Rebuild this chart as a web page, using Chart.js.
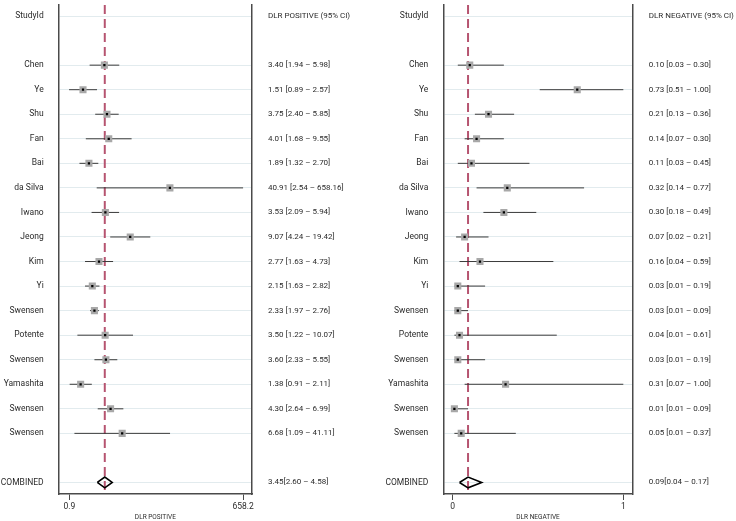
<!DOCTYPE html>
<html>
<head>
<meta charset="utf-8">
<script src="https://cdn.jsdelivr.net/npm/chart.js@4.4.1/dist/chart.umd.min.js"></script>
<style>
    html, body { margin: 0; padding: 0; background: #fff; }
    #wrap { position: relative; width: 736px; height: 521px; }
    #posBox { position: absolute; left: 0; top: 0; width: 375px; height: 521px; }
    #negBox { position: absolute; left: 375px; top: 0; width: 361px; height: 521px; }
</style>
</head>
<body>
<div id="wrap">
    <div id="posBox"><canvas id="posChart" width="375" height="521"></canvas></div>
    <div id="negBox"><canvas id="negChart" width="361" height="521"></canvas></div>
</div>
<script>
const studies = ['Chen', 'Ye', 'Shu', 'Fan', 'Bai', 'da Silva', 'Iwano', 'Jeong', 'Kim', 'Yi',
    'Swensen', 'Potente', 'Swensen', 'Yamashita', 'Swensen', 'Swensen'];

const posEst = [3.40, 1.51, 3.75, 4.01, 1.89, 40.91, 3.53, 9.07, 2.77, 2.15, 2.33, 3.50, 3.60, 1.38, 4.30, 6.68];
const posLo  = [1.94, 0.89, 2.40, 1.68, 1.32, 2.54, 2.09, 4.24, 1.63, 1.63, 1.97, 1.22, 2.33, 0.91, 2.64, 1.09];
const posHi  = [5.98, 2.57, 5.85, 9.55, 2.70, 658.16, 5.94, 19.42, 4.73, 2.82, 2.76, 10.07, 5.55, 2.11, 6.99, 41.11];
const posCombined = [3.45, 2.60, 4.58];
const posTicks = [0.9, 658.2];

const negEst = [0.10, 0.73, 0.21, 0.14, 0.11, 0.32, 0.30, 0.07, 0.16, 0.03, 0.03, 0.04, 0.03, 0.31, 0.01, 0.05];
const negLo  = [0.03, 0.51, 0.13, 0.07, 0.03, 0.14, 0.18, 0.02, 0.04, 0.01, 0.01, 0.01, 0.01, 0.07, 0.01, 0.01];
const negHi  = [0.30, 1.00, 0.36, 0.30, 0.45, 0.77, 0.49, 0.21, 0.59, 0.19, 0.09, 0.61, 0.19, 1.00, 0.09, 0.37];
const negCombined = [0.09, 0.04, 0.17];
const negTicks = [0, 1];

const FONT = "Roboto, 'Liberation Sans', sans-serif";
const TEXT = '#2b2b2b';
const FRAME = '#4a4a4a';
const combinedRow = studies.length + 3;
const rowTicks = [0, ...studies.map((s, i) => i + 2), combinedRow];
const yMin = -0.45, yMax = combinedRow + 0.47;

const rowLabel = (v) => {
    if (v === 0) return 'StudyId';
    if (v === combinedRow) return 'COMBINED';
    return studies[v - 2] || '';
};

const fmt = (n) => n.toFixed(2);

window.renderForest = (canvasId, cfg) => {
    const ctx = document.getElementById(canvasId).getContext('2d');

    const ciText = (v) => {
        if (v === 0) return cfg.header;
        if (v === combinedRow) {
            const c = cfg.combined;
            return `${fmt(c[0])}[${fmt(c[1])} – ${fmt(c[2])}]`;
        }
        const i = v - 2;
        if (i < 0 || i >= studies.length) return '';
        return `${fmt(cfg.est[i])} [${fmt(cfg.lo[i])} – ${fmt(cfg.hi[i])}]`;
    };

    const ciLines = studies.map((s, i) => ({
        showLine: true,
        data: [{ x: cfg.lo[i], y: i + 2 }, { x: cfg.hi[i], y: i + 2 }],
        borderColor: '#3a3a3a',
        borderWidth: 1,
        pointRadius: 0,
        order: 3
    }));

    const c = cfg.combined;

    new Chart(ctx, {
        type: 'scatter',
        data: {
            datasets: [
                {
                    // centre dots
                    data: cfg.est.map((v, i) => ({ x: v, y: i + 2 })),
                    pointStyle: 'rect',
                    pointRadius: 1.6,
                    backgroundColor: '#000',
                    borderWidth: 0,
                    order: 0
                },
                {
                    // grey weight boxes
                    data: cfg.est.map((v, i) => ({ x: v, y: i + 2 })),
                    pointStyle: 'rect',
                    pointRadius: 5,
                    backgroundColor: '#a8a8a8',
                    borderWidth: 0,
                    order: 1
                },
                ...ciLines,
                {
                    // pooled estimate diamond
                    showLine: true,
                    data: [
                        { x: c[1], y: combinedRow },
                        { x: c[0], y: combinedRow - 0.22 },
                        { x: c[2], y: combinedRow },
                        { x: c[0], y: combinedRow + 0.22 },
                        { x: c[1], y: combinedRow }
                    ],
                    borderColor: '#000',
                    borderWidth: 1.6,
                    pointRadius: 0,
                    fill: false,
                    order: 1
                },
                {
                    // pooled reference line
                    showLine: true,
                    data: [{ x: c[0], y: yMin }, { x: c[0], y: yMax }],
                    borderColor: 'rgb(182, 84, 112)',
                    borderWidth: 2,
                    borderDash: [9, 5],
                    pointRadius: 0,
                    order: 4
                }
            ]
        },
        options: {
            responsive: false,
            devicePixelRatio: 1,
            animation: false,
            layout: { padding: 0 },
            plugins: {
                legend: { display: false },
                tooltip: { enabled: false }
            },
            scales: {
                x: {
                    type: cfg.xType,
                    position: 'bottom',
                    min: cfg.xMin,
                    max: cfg.xMax,
                    afterBuildTicks: (s) => { s.ticks = cfg.xTicks.map(v => ({ value: v })); },
                    afterFit: (s) => { s.height = 27; s.paddingLeft = 0; s.paddingRight = 0; },
                    ticks: {
                        autoSkip: false,
                        maxRotation: 0,
                        padding: 2,
                        color: TEXT,
                        font: { family: FONT, size: 8.5 },
                        callback: (v) => String(v)
                    },
                    grid: { drawOnChartArea: false, drawTicks: true, tickLength: 6, color: FRAME },
                    border: { display: true, color: FRAME, width: 1.5 },
                    title: {
                        display: true,
                        text: cfg.axisTitle,
                        color: TEXT,
                        padding: 0,
                        font: { family: FONT, size: 6.5 }
                    }
                },
                y: {
                    type: 'linear',
                    position: 'left',
                    reverse: true,
                    min: yMin,
                    max: yMax,
                    afterBuildTicks: (s) => { s.ticks = rowTicks.map(v => ({ value: v })); },
                    afterFit: (s) => { s.width = cfg.leftW; s.paddingTop = 0; s.paddingBottom = 0; },
                    ticks: {
                        padding: 15,
                        color: TEXT,
                        font: { family: FONT, size: 8.5 },
                        callback: (v) => rowLabel(v)
                    },
                    grid: { color: '#e2ebee', lineWidth: 1, drawTicks: false },
                    border: { display: true, color: FRAME, width: 1.5 }
                },
                y2: {
                    type: 'linear',
                    position: 'right',
                    reverse: true,
                    min: yMin,
                    max: yMax,
                    afterBuildTicks: (s) => { s.ticks = rowTicks.map(v => ({ value: v })); },
                    afterFit: (s) => { s.width = cfg.rightW; s.paddingTop = 0; s.paddingBottom = 0; },
                    ticks: {
                        padding: 16,
                        color: TEXT,
                        font: { family: FONT, size: 8 },
                        callback: (v) => ciText(v)
                    },
                    grid: { drawOnChartArea: false, drawTicks: false },
                    border: { display: true, color: FRAME, width: 1.5 }
                }
            }
        }
    });
};

window.renderForest('posChart', {
    est: posEst, lo: posLo, hi: posHi, combined: posCombined,
    xType: 'logarithmic', xMin: 0.634, xMax: 923, xTicks: posTicks,
    header: 'DLR POSITIVE (95% CI)', axisTitle: 'DLR POSITIVE',
    leftW: 58.7, rightW: 375 - 252
});

window.renderForest('negChart', {
    est: negEst, lo: negLo, hi: negHi, combined: negCombined,
    xType: 'linear', xMin: -0.055, xMax: 1.055, xTicks: negTicks,
    header: 'DLR NEGATIVE (95% CI)', axisTitle: 'DLR NEGATIVE',
    leftW: 443.3 - 375, rightW: 736 - 632.7
});
</script>
</body>
</html>
